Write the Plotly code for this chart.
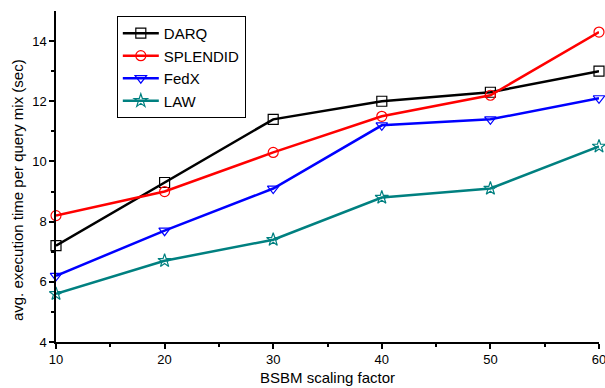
import plotly.graph_objects as go

scale = [10, 20, 30, 40, 50, 60]
darq = [7.2, 9.3, 11.4, 12.0, 12.3, 13.0]
splendid = [8.2, 9.0, 10.3, 11.5, 12.2, 14.3]
fedx = [6.2, 7.7, 9.1, 11.2, 11.4, 12.1]
law = [5.6, 6.7, 7.4, 8.8, 9.1, 10.5]

series = [
    ("DARQ", darq, "#000000", "square-open"),
    ("SPLENDID", splendid, "#ff0000", "circle-open"),
    ("FedX", fedx, "#0000ff", "triangle-down-open"),
    ("LAW", law, "#008080", "star-open"),
]

fig = go.Figure()
for name, vals, color, sym in series:
    fig.add_trace(go.Scatter(
        x=scale, y=vals, name=name, mode="lines+markers",
        line=dict(color=color, width=2.5),
        marker=dict(symbol=sym, size=10, color=color,
                    line=dict(color=color, width=1.2)),
        cliponaxis=False,
    ))

font = "Liberation Sans, Arial, sans-serif"
axis_common = dict(
    showgrid=False, zeroline=False, showline=True, linecolor="black",
    linewidth=1.5, ticks="outside", ticklen=5, tickwidth=1.5,
    tickcolor="black", tickfont=dict(size=13), automargin=False,
    ticklabeloverflow="allow",
)

fig.update_layout(
    width=605, height=388,
    margin=dict(l=56, r=6, t=11, b=46),
    paper_bgcolor="white", plot_bgcolor="white",
    font=dict(family=font, color="black", size=13),
    showlegend=True,
    legend=dict(x=0.112, y=0.985, xanchor="left", yanchor="top",
                bordercolor="black", borderwidth=1, bgcolor="white",
                font=dict(size=15), tracegroupgap=0, itemwidth=36),
    xaxis=dict(
        range=[10, 60], tickvals=[10, 20, 30, 40, 50, 60],
        minor=dict(tickvals=[15, 25, 35, 45, 55], ticks="outside",
                   ticklen=3, tickwidth=1.5, tickcolor="black"),
        **axis_common,
    ),
    yaxis=dict(
        range=[4, 15], tickvals=[4, 6, 8, 10, 12, 14],
        minor=dict(tickvals=[5, 7, 9, 11, 13], ticks="outside",
                   ticklen=3, tickwidth=1.5, tickcolor="black"),
        **axis_common,
    ),
    annotations=[
        dict(text="BSBM scaling factor", xref="paper", yref="paper",
             x=0.5, y=-0.1375, xanchor="center", yanchor="bottom",
             showarrow=False, font=dict(size=15)),
        dict(text="avg. execution time per query mix (sec)",
             xref="paper", yref="paper", x=-0.0718, y=0.459,
             xanchor="center", yanchor="middle", textangle=-90,
             showarrow=False, font=dict(size=15)),
    ],
)

fig.write_html("out.html")
